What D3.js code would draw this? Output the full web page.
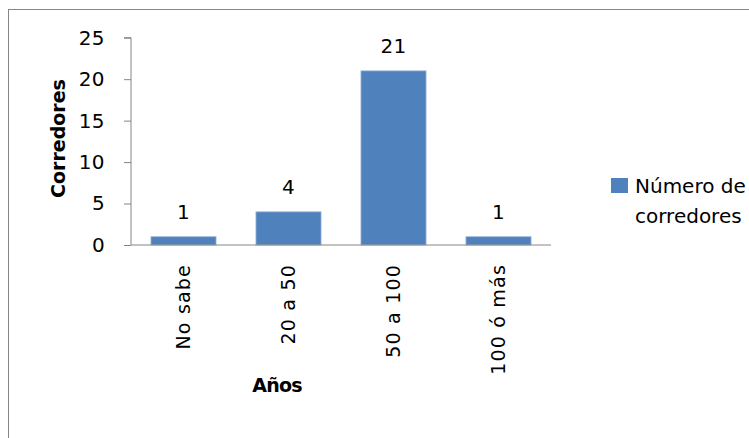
<!DOCTYPE html>
<html><head><meta charset="utf-8">
<script src="https://cdn.jsdelivr.net/npm/d3@7"></script>
<style>body{margin:0;background:#fff;overflow:hidden}svg{display:block}text{font-family:"DejaVu Sans",sans-serif;fill:#000}</style>
</head><body>
<script>
const categories = ["No sabe", "20 a 50", "50 a 100", "100 ó más"];
const values = [1, 4, 21, 1];
const yTicks = [0, 5, 10, 15, 20, 25];
const seriesName = ["Número de", "corredores"];
const yTitle = "Corredores";
const xTitle = "Años";

const W = 749, H = 438;
const svg = d3.select("body").append("svg").attr("width", W).attr("height", H);

svg.append("rect").attr("x", 8.5).attr("y", 9.5).attr("width", 800).attr("height", 500)
  .attr("fill", "#fff").attr("stroke", "#868686").attr("stroke-width", 1);

const x0 = 131, x1 = 551, yTop = 37.7, yBot = 245;
const x = d3.scaleBand().domain(categories).range([x0, x1]).paddingInner(0.38).paddingOuter(0.19);
const y = d3.scaleLinear().domain([0, 25]).range([yBot, yTop]);

// bars
svg.selectAll("rect.bar").data(values).enter().append("rect")
  .attr("class", "bar")
  .attr("x", (d, i) => x(categories[i]))
  .attr("width", x.bandwidth())
  .attr("y", d => y(d))
  .attr("height", d => y(0) - y(d))
  .attr("fill", "#4F81BD").attr("stroke", "#9db6d8").attr("stroke-width", 0.8);

// y axis
const yAxis = d3.axisLeft(y).tickValues(yTicks).tickSize(7).tickPadding(19);
const gy = svg.append("g").attr("transform", `translate(${x0},0)`).call(yAxis);
gy.select(".domain").attr("stroke", "#868686").attr("d", `M-7,${y(25)}H0V${y(0)}`);
gy.selectAll(".tick line").attr("stroke", "#868686");
gy.selectAll(".tick text").attr("font-size", 20).attr("font-family", "DejaVu Sans").attr("fill", "#000")
  .style("letter-spacing", "0.4px");

// x axis
const xAxis = d3.axisBottom(x).tickSize(0).tickPadding(0);
const gx = svg.append("g").attr("transform", `translate(0,${yBot})`).call(xAxis);
gx.select(".domain").attr("stroke", "#868686").attr("d", `M${x0},0H${x1}`);
gx.selectAll(".tick text")
  .attr("font-size", 19).attr("font-family", "DejaVu Sans").attr("fill", "#000")
  .attr("transform", "rotate(-90)")
  .attr("text-anchor", "end")
  .attr("x", -19).attr("y", 0).attr("dy", "0.36em")
  .style("letter-spacing", "1.2px");

// data labels
svg.selectAll("text.lbl").data(values).enter().append("text")
  .attr("class", "lbl")
  .attr("x", (d, i) => x(categories[i]) + x.bandwidth() / 2)
  .attr("y", d => y(d) - 18)
  .attr("text-anchor", "middle")
  .attr("font-size", 20)
  .style("letter-spacing", "0.4px")
  .text(d => d);

// axis titles
svg.append("text").attr("transform", "translate(65,138.5) rotate(-90)")
  .attr("text-anchor", "middle").attr("font-size", 19).attr("font-weight", "bold").text(yTitle);
svg.append("text").attr("x", 277).attr("y", 391.7)
  .attr("text-anchor", "middle").attr("font-size", 19).attr("font-weight", "bold")
  .style("letter-spacing", "-0.8px").text(xTitle);

// legend
svg.append("rect").attr("x", 611).attr("y", 178).attr("width", 17).attr("height", 15).attr("fill", "#4F81BD");
svg.append("text").attr("x", 635).attr("y", 193).attr("font-size", 20).text(seriesName[0]);
svg.append("text").attr("x", 635).attr("y", 223).attr("font-size", 20).text(seriesName[1]);
</script>
</body></html>
